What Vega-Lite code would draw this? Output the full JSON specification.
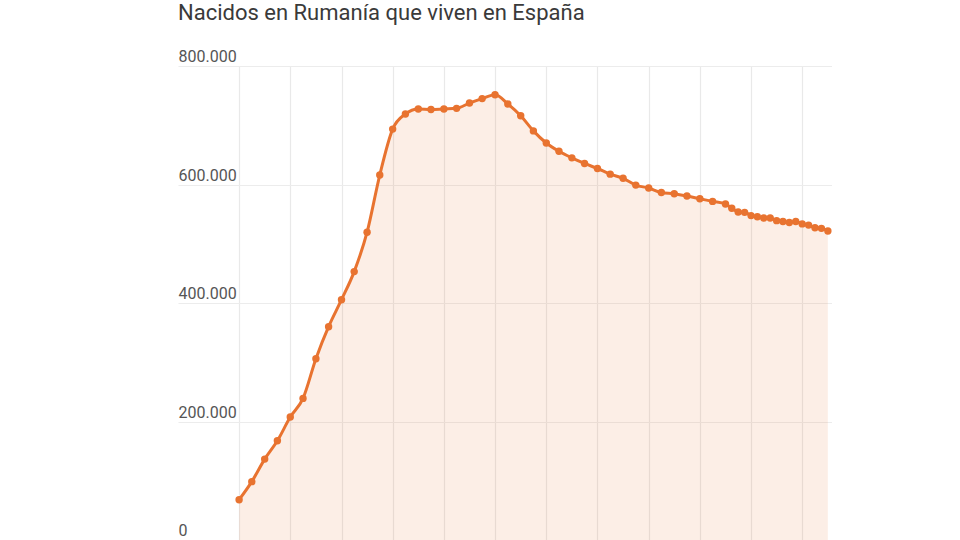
{
  "$schema": "https://vega.github.io/schema/vega-lite/v6.json",
  "description": "Nacidos en Rumanía que viven en España",
  "width": 654,
  "height": 474,
  "autosize": {"type": "none"},
  "padding": {"left": 178, "top": 66, "right": 0, "bottom": 0},
  "background": "white",
  "title": {
    "text": "Nacidos en Rumanía que viven en España",
    "anchor": "start",
    "frame": "group",
    "orient": "top",
    "baseline": "alphabetic",
    "offset": 7,
    "font": "Roboto",
    "fontSize": 22,
    "fontWeight": "normal",
    "color": "#3a3a3a"
  },
  "config": {
    "view": {"stroke": "transparent"},
    "font": "Roboto"
  },
  "data": {
    "values": [
      {"fecha": "2002-01-01", "nacidos": 68000},
      {"fecha": "2002-07-01", "nacidos": 98500},
      {"fecha": "2003-01-01", "nacidos": 136500},
      {"fecha": "2003-07-01", "nacidos": 167500},
      {"fecha": "2004-01-01", "nacidos": 207500},
      {"fecha": "2004-07-01", "nacidos": 239000},
      {"fecha": "2005-01-01", "nacidos": 306000},
      {"fecha": "2005-07-01", "nacidos": 360000},
      {"fecha": "2006-01-01", "nacidos": 405500},
      {"fecha": "2006-07-01", "nacidos": 453000},
      {"fecha": "2007-01-01", "nacidos": 519500},
      {"fecha": "2007-07-01", "nacidos": 616000},
      {"fecha": "2008-01-01", "nacidos": 693500},
      {"fecha": "2008-07-01", "nacidos": 719000},
      {"fecha": "2009-01-01", "nacidos": 727500},
      {"fecha": "2009-07-01", "nacidos": 726500},
      {"fecha": "2010-01-01", "nacidos": 727500},
      {"fecha": "2010-07-01", "nacidos": 728500},
      {"fecha": "2011-01-01", "nacidos": 737500},
      {"fecha": "2011-07-01", "nacidos": 745000},
      {"fecha": "2012-01-01", "nacidos": 751500},
      {"fecha": "2012-07-01", "nacidos": 736000},
      {"fecha": "2013-01-01", "nacidos": 716000},
      {"fecha": "2013-07-01", "nacidos": 690500},
      {"fecha": "2014-01-01", "nacidos": 670000},
      {"fecha": "2014-07-01", "nacidos": 656000},
      {"fecha": "2015-01-01", "nacidos": 645000},
      {"fecha": "2015-07-01", "nacidos": 635500},
      {"fecha": "2016-01-01", "nacidos": 627000},
      {"fecha": "2016-07-01", "nacidos": 617500},
      {"fecha": "2017-01-01", "nacidos": 610500},
      {"fecha": "2017-07-01", "nacidos": 599000},
      {"fecha": "2018-01-01", "nacidos": 594000},
      {"fecha": "2018-07-01", "nacidos": 586500},
      {"fecha": "2019-01-01", "nacidos": 584500},
      {"fecha": "2019-07-01", "nacidos": 580500},
      {"fecha": "2020-01-01", "nacidos": 576000},
      {"fecha": "2020-07-01", "nacidos": 571500},
      {"fecha": "2021-01-01", "nacidos": 567000},
      {"fecha": "2021-04-01", "nacidos": 560000},
      {"fecha": "2021-07-01", "nacidos": 553500},
      {"fecha": "2021-10-01", "nacidos": 553000},
      {"fecha": "2022-01-01", "nacidos": 547500},
      {"fecha": "2022-04-01", "nacidos": 545500},
      {"fecha": "2022-07-01", "nacidos": 543500},
      {"fecha": "2022-10-01", "nacidos": 543500},
      {"fecha": "2023-01-01", "nacidos": 539000},
      {"fecha": "2023-04-01", "nacidos": 537500},
      {"fecha": "2023-07-01", "nacidos": 536000},
      {"fecha": "2023-10-01", "nacidos": 537500},
      {"fecha": "2024-01-01", "nacidos": 533500},
      {"fecha": "2024-04-01", "nacidos": 531500},
      {"fecha": "2024-07-01", "nacidos": 527000},
      {"fecha": "2024-10-01", "nacidos": 526000},
      {"fecha": "2025-01-01", "nacidos": 521500}
    ]
  },
  "encoding": {
    "x": {
      "field": "fecha",
      "type": "temporal",
      "title": null,
      "scale": {
        "type": "utc",
        "domain": [
          {"year": 1999, "month": 8, "date": 13, "utc": true},
          {"year": 2025, "month": 3, "date": 1, "utc": true}
        ]
      },
      "axis": {
        "values": [
          {"year": 2002, "month": 1, "date": 1, "utc": true},
          {"year": 2004, "month": 1, "date": 1, "utc": true},
          {"year": 2006, "month": 1, "date": 1, "utc": true},
          {"year": 2008, "month": 1, "date": 1, "utc": true},
          {"year": 2010, "month": 1, "date": 1, "utc": true},
          {"year": 2012, "month": 1, "date": 1, "utc": true},
          {"year": 2014, "month": 1, "date": 1, "utc": true},
          {"year": 2016, "month": 1, "date": 1, "utc": true},
          {"year": 2018, "month": 1, "date": 1, "utc": true},
          {"year": 2020, "month": 1, "date": 1, "utc": true},
          {"year": 2022, "month": 1, "date": 1, "utc": true},
          {"year": 2024, "month": 1, "date": 1, "utc": true}
        ],
        "grid": true,
        "gridColor": "#e9e9e9",
        "gridWidth": 1.2,
        "labels": false,
        "ticks": false,
        "domain": false
      }
    },
    "y": {
      "field": "nacidos",
      "type": "quantitative",
      "title": null,
      "scale": {"domain": [0, 800000], "nice": false},
      "axis": {
        "values": [0, 200000, 400000, 600000, 800000],
        "format": ",.0f",
        "labelExpr": "replace(datum.label, /,/g, '.')",
        "grid": true,
        "gridColor": "#ececec",
        "gridWidth": 1.2,
        "ticks": false,
        "tickSize": 0,
        "domain": false,
        "labelAlign": "left",
        "labelBaseline": "alphabetic",
        "labelPadding": 0,
        "labelOffset": -4.5,
        "labelFont": "Roboto",
        "labelFontSize": 16,
        "labelColor": "#555555",
        "labelBound": false,
        "labelFlush": false
      }
    }
  },
  "layer": [
    {
      "mark": {
        "type": "area",
        "interpolate": "monotone",
        "color": "#e87330",
        "opacity": 0.12
      },
      "encoding": {"y2": {"datum": 0}}
    },
    {
      "mark": {
        "type": "line",
        "interpolate": "monotone",
        "color": "#e87330",
        "strokeWidth": 3
      }
    },
    {
      "mark": {
        "type": "circle",
        "color": "#e87330",
        "opacity": 1,
        "size": 55
      }
    }
  ]
}
